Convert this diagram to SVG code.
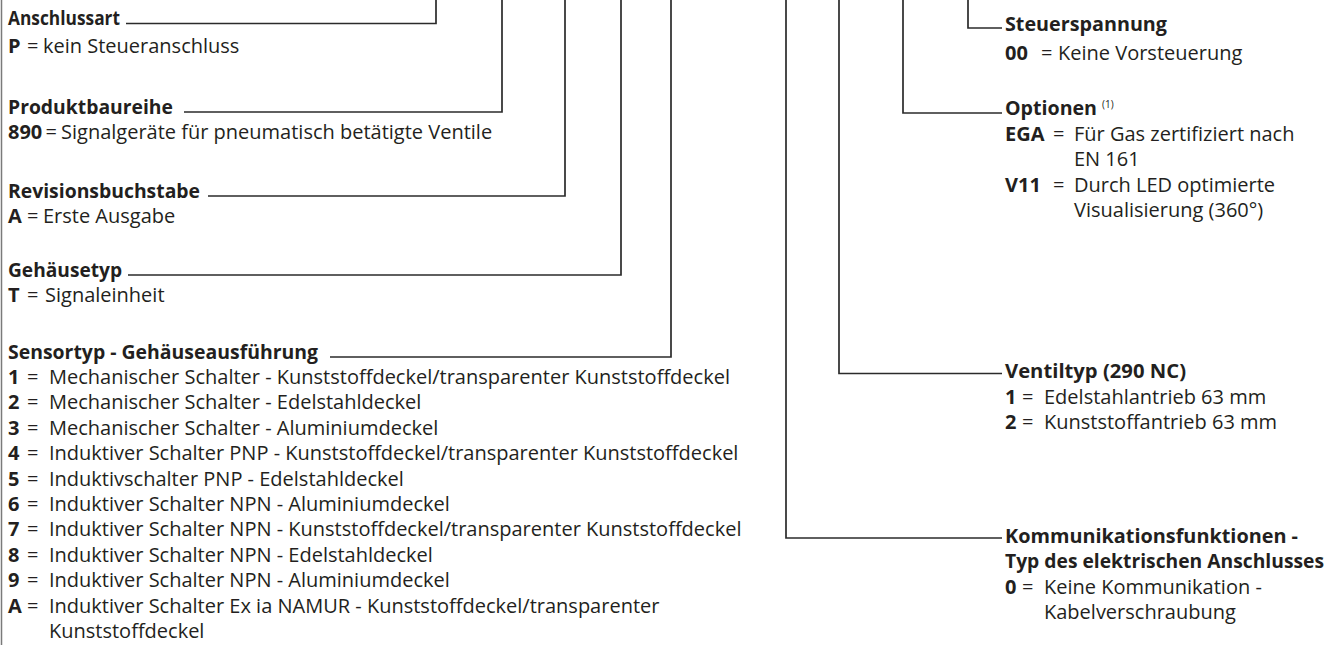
<svg xmlns="http://www.w3.org/2000/svg" width="1336" height="645" viewBox="0 0 1336 645">
  <style>
    text { font-family: "Open Sans", "Noto Sans", "DejaVu Sans", sans-serif; font-size: 20px; fill: #231f20; }
    .b { font-weight: 700; }
    .h { font-weight: 700; }
    .sup { font-size: 10px; }
    .conn { fill: none; stroke: #2b2b2b; stroke-width: 1.7; }
    .frame { fill: none; stroke: #7a7a7a; stroke-width: 1.5; }
  </style>

  <!-- left margin rule -->
  <g id="frame">
    <line class="frame" x1="1.5" y1="0" x2="1.5" y2="645"/>
  </g>

  <!-- leader lines from the order code positions to each field -->
  <g id="connectors">
    <path class="conn" d="M126,23.5 H436 V0"/>
    <path class="conn" d="M184,112 H502 V0"/>
    <path class="conn" d="M208,196 H565 V0"/>
    <path class="conn" d="M128,275 H621 V0"/>
    <path class="conn" d="M330,357 H671 V0"/>
    <path class="conn" d="M786,0 V538 H1002"/>
    <path class="conn" d="M839,0 V373.5 H1002"/>
    <path class="conn" d="M903,0 V113 H1002"/>
    <path class="conn" d="M968,0 V28 H1002"/>
  </g>

  <g id="anschlussart">
    <text class="h" x="8" y="25" textLength="112" lengthAdjust="spacingAndGlyphs">Anschlussart</text>
    <text y="53"><tspan class="b" x="8">P</tspan><tspan x="27">=</tspan><tspan x="43">kein Steueranschluss</tspan></text>
  </g>

  <g id="produktbaureihe">
    <text class="h" x="8" y="113.5" textLength="165" lengthAdjust="spacingAndGlyphs">Produktbaureihe</text>
    <text y="138.5"><tspan class="b" x="8">890</tspan><tspan x="45.5">=</tspan><tspan x="61">Signalgeräte für pneumatisch betätigte Ventile</tspan></text>
  </g>

  <g id="revisionsbuchstabe">
    <text class="h" x="8" y="197.5" textLength="192" lengthAdjust="spacingAndGlyphs">Revisionsbuchstabe</text>
    <text y="222.5"><tspan class="b" x="8">A</tspan><tspan x="27">=</tspan><tspan x="43">Erste Ausgabe</tspan></text>
  </g>

  <g id="gehaeusetyp">
    <text class="h" x="8" y="276.5" textLength="114" lengthAdjust="spacingAndGlyphs">Gehäusetyp</text>
    <text y="302"><tspan class="b" x="8">T</tspan><tspan x="27">=</tspan><tspan x="45">Signaleinheit</tspan></text>
  </g>

  <g id="sensortyp">
    <text class="h" x="8" y="358.5" textLength="310" lengthAdjust="spacingAndGlyphs">Sensortyp - Gehäuseausführung</text>
    <text y="384"><tspan class="b" x="8">1</tspan><tspan x="27">=</tspan><tspan x="49">Mechanischer Schalter - Kunststoffdeckel/transparenter Kunststoffdeckel</tspan></text>
    <text y="409.4"><tspan class="b" x="8">2</tspan><tspan x="27">=</tspan><tspan x="49">Mechanischer Schalter - Edelstahldeckel</tspan></text>
    <text y="434.8"><tspan class="b" x="8">3</tspan><tspan x="27">=</tspan><tspan x="49">Mechanischer Schalter - Aluminiumdeckel</tspan></text>
    <text y="460.2"><tspan class="b" x="8">4</tspan><tspan x="27">=</tspan><tspan x="49">Induktiver Schalter PNP - Kunststoffdeckel/transparenter Kunststoffdeckel</tspan></text>
    <text y="485.6"><tspan class="b" x="8">5</tspan><tspan x="27">=</tspan><tspan x="49">Induktivschalter PNP - Edelstahldeckel</tspan></text>
    <text y="511"><tspan class="b" x="8">6</tspan><tspan x="27">=</tspan><tspan x="49">Induktiver Schalter NPN - Aluminiumdeckel</tspan></text>
    <text y="536.4"><tspan class="b" x="8">7</tspan><tspan x="27">=</tspan><tspan x="49">Induktiver Schalter NPN - Kunststoffdeckel/transparenter Kunststoffdeckel</tspan></text>
    <text y="561.8"><tspan class="b" x="8">8</tspan><tspan x="27">=</tspan><tspan x="49">Induktiver Schalter NPN - Edelstahldeckel</tspan></text>
    <text y="587.2"><tspan class="b" x="8">9</tspan><tspan x="27">=</tspan><tspan x="49">Induktiver Schalter NPN - Aluminiumdeckel</tspan></text>
    <text y="612.6"><tspan class="b" x="8">A</tspan><tspan x="27">=</tspan><tspan x="49">Induktiver Schalter Ex ia NAMUR - Kunststoffdeckel/transparenter</tspan></text>
    <text x="49" y="638">Kunststoffdeckel</text>
  </g>

  <g id="steuerspannung">
    <text class="h" x="1005" y="30.5" textLength="162" lengthAdjust="spacingAndGlyphs">Steuerspannung</text>
    <text y="59.5"><tspan class="b" x="1005">00</tspan><tspan x="1041">=</tspan><tspan x="1058">Keine Vorsteuerung</tspan></text>
  </g>

  <g id="optionen">
    <text class="h" x="1005" y="115" textLength="92" lengthAdjust="spacingAndGlyphs">Optionen</text>
    <text class="sup" x="1102" y="108">(1)</text>
    <text y="140.5"><tspan class="b" x="1005">EGA</tspan><tspan x="1053">=</tspan><tspan x="1074">Für Gas zertifiziert nach</tspan></text>
    <text x="1074" y="166">EN 161</text>
    <text y="191.5"><tspan class="b" x="1005">V11</tspan><tspan x="1053">=</tspan><tspan x="1074">Durch LED optimierte</tspan></text>
    <text x="1074" y="217">Visualisierung (360°)</text>
  </g>

  <g id="ventiltyp">
    <text class="h" x="1005" y="378" textLength="181" lengthAdjust="spacingAndGlyphs">Ventiltyp (290 NC)</text>
    <text y="403.6"><tspan class="b" x="1005">1</tspan><tspan x="1022">=</tspan><tspan x="1044">Edelstahlantrieb 63 mm</tspan></text>
    <text y="429.2"><tspan class="b" x="1005">2</tspan><tspan x="1022">=</tspan><tspan x="1044">Kunststoffantrieb 63 mm</tspan></text>
  </g>

  <g id="kommunikation">
    <text class="h" x="1005" y="543" textLength="293" lengthAdjust="spacingAndGlyphs">Kommunikationsfunktionen -</text>
    <text class="h" x="1005" y="568" textLength="319" lengthAdjust="spacingAndGlyphs">Typ des elektrischen Anschlusses</text>
    <text y="593.5"><tspan class="b" x="1005">0</tspan><tspan x="1022">=</tspan><tspan x="1044">Keine Kommunikation -</tspan></text>
    <text x="1044" y="619">Kabelverschraubung</text>
  </g>
</svg>
